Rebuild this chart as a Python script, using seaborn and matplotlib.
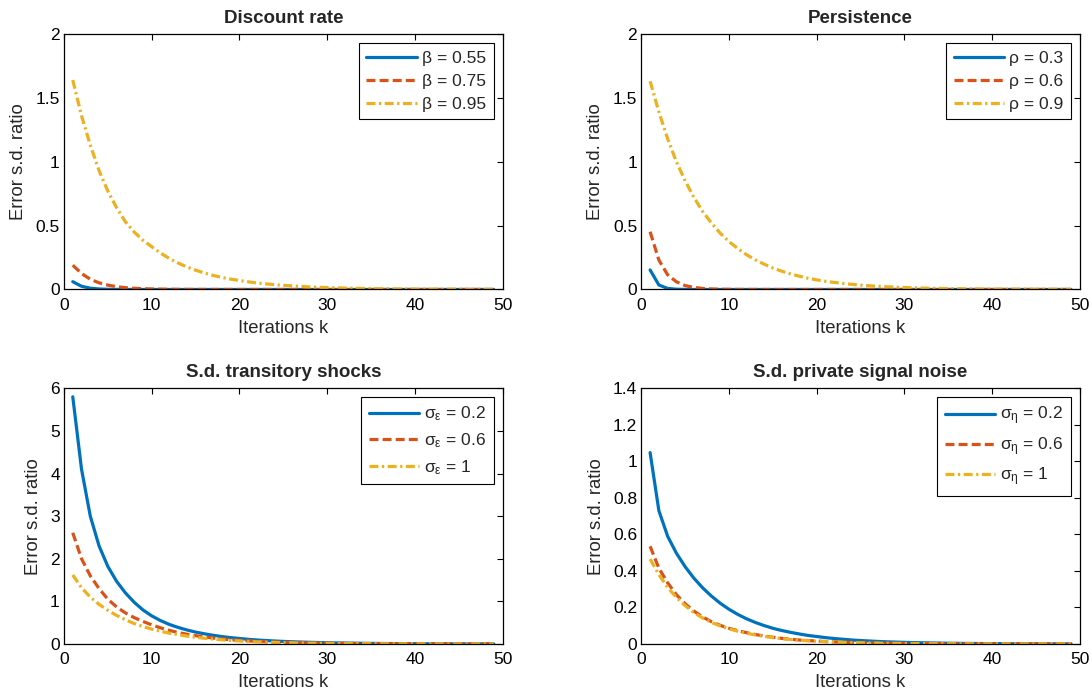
import numpy as np
import matplotlib
matplotlib.use("Agg")
import matplotlib.pyplot as plt
from matplotlib.ticker import FormatStrFormatter
import seaborn as sns

# --- data (k = 1..49) ---
iterations = list(range(1, 50))

# Discount rate
beta_labels = ["\u03b2 = 0.55", "\u03b2 = 0.75", "\u03b2 = 0.95"]
beta_055 = [0.061, 0.025, 0.01, 0.004, 0.0015, 0.0006, 0.0002, 0.0001, 0, 0,
            0, 0, 0, 0, 0, 0, 0, 0, 0, 0,
            0, 0, 0, 0, 0, 0, 0, 0, 0, 0,
            0, 0, 0, 0, 0, 0, 0, 0, 0, 0,
            0, 0, 0, 0, 0, 0, 0, 0, 0]
beta_075 = [0.19, 0.125, 0.08, 0.052, 0.034, 0.022, 0.014, 0.009, 0.006, 0.004,
            0.0025, 0.0016, 0.001, 0.0007, 0.0004, 0.0003, 0.0002, 0.0001, 0.0001, 0,
            0, 0, 0, 0, 0, 0, 0, 0, 0, 0,
            0, 0, 0, 0, 0, 0, 0, 0, 0, 0,
            0, 0, 0, 0, 0, 0, 0, 0, 0]
beta_095 = [1.64, 1.36, 1.13, 0.93, 0.77, 0.64, 0.53, 0.45, 0.385, 0.335,
            0.285, 0.243, 0.207, 0.177, 0.151, 0.129, 0.11, 0.094, 0.081, 0.07,
            0.06, 0.051, 0.044, 0.038, 0.032, 0.028, 0.024, 0.02, 0.017, 0.015,
            0.013, 0.011, 0.0095, 0.008, 0.007, 0.006, 0.005, 0.0044, 0.0038, 0.0032,
            0.0028, 0.0024, 0.002, 0.0018, 0.0015, 0.0013, 0.0011, 0.001, 0.0008]

# Persistence
rho_labels = ["\u03c1 = 0.3", "\u03c1 = 0.6", "\u03c1 = 0.9"]
rho_03 = [0.153, 0.035, 0.008, 0.002, 0.0005, 0.0001, 0, 0, 0, 0,
          0, 0, 0, 0, 0, 0, 0, 0, 0, 0,
          0, 0, 0, 0, 0, 0, 0, 0, 0, 0,
          0, 0, 0, 0, 0, 0, 0, 0, 0, 0,
          0, 0, 0, 0, 0, 0, 0, 0, 0]
rho_06 = [0.452, 0.23, 0.115, 0.06, 0.03, 0.016, 0.008, 0.004, 0.002, 0.001,
          0.0005, 0.0003, 0.0001, 0, 0, 0, 0, 0, 0, 0,
          0, 0, 0, 0, 0, 0, 0, 0, 0, 0,
          0, 0, 0, 0, 0, 0, 0, 0, 0, 0,
          0, 0, 0, 0, 0, 0, 0, 0, 0]
rho_09 = [1.63, 1.39, 1.18, 1.0, 0.85, 0.72, 0.61, 0.52, 0.44, 0.375,
          0.32, 0.272, 0.232, 0.198, 0.168, 0.143, 0.122, 0.104, 0.088, 0.075,
          0.064, 0.055, 0.047, 0.04, 0.034, 0.029, 0.025, 0.021, 0.018, 0.015,
          0.013, 0.011, 0.0095, 0.008, 0.007, 0.006, 0.005, 0.0043, 0.0037, 0.0031,
          0.0027, 0.0023, 0.002, 0.0017, 0.0014, 0.0012, 0.001, 0.0009, 0.0008]

# S.d. transitory shocks
eps_labels = [r"$\sigma_\varepsilon$ = 0.2", r"$\sigma_\varepsilon$ = 0.6", r"$\sigma_\varepsilon$ = 1"]
eps_02 = [5.8, 4.1, 3.0, 2.3, 1.82, 1.47, 1.2, 0.98, 0.8, 0.66,
          0.55, 0.46, 0.39, 0.33, 0.28, 0.24, 0.205, 0.175, 0.15, 0.13,
          0.11, 0.095, 0.082, 0.071, 0.061, 0.053, 0.046, 0.04, 0.035, 0.03,
          0.026, 0.023, 0.02, 0.017, 0.015, 0.013, 0.011, 0.0098, 0.0085, 0.0074,
          0.0064, 0.0056, 0.0049, 0.0042, 0.0037, 0.0032, 0.0028, 0.0024, 0.0021]
eps_06 = [2.61, 2.0, 1.6, 1.3, 1.05, 0.87, 0.73, 0.62, 0.53, 0.45,
          0.38, 0.32, 0.27, 0.23, 0.195, 0.165, 0.14, 0.12, 0.1, 0.086,
          0.073, 0.062, 0.053, 0.045, 0.038, 0.033, 0.028, 0.024, 0.02, 0.017,
          0.0145, 0.0124, 0.0105, 0.009, 0.0077, 0.0065, 0.0055, 0.0047, 0.004, 0.0034,
          0.0029, 0.0025, 0.0021, 0.0018, 0.0015, 0.0013, 0.0011, 0.0009, 0.0008]
eps_1 = [1.62, 1.32, 1.1, 0.93, 0.79, 0.67, 0.57, 0.48, 0.41, 0.35,
         0.3, 0.255, 0.218, 0.186, 0.158, 0.135, 0.115, 0.098, 0.083, 0.071,
         0.06, 0.051, 0.044, 0.037, 0.032, 0.027, 0.023, 0.02, 0.017, 0.0144,
         0.0123, 0.0105, 0.009, 0.0076, 0.0065, 0.0055, 0.0047, 0.004, 0.0034, 0.0029,
         0.0025, 0.0021, 0.0018, 0.0015, 0.0013, 0.0011, 0.001, 0.0008, 0.0007]

# S.d. private signal noise
eta_labels = [r"$\sigma_\eta$ = 0.2", r"$\sigma_\eta$ = 0.6", r"$\sigma_\eta$ = 1"]
eta_02 = [1.048, 0.73, 0.59, 0.497, 0.423, 0.36, 0.307, 0.262, 0.223, 0.19,
          0.162, 0.138, 0.118, 0.101, 0.086, 0.074, 0.064, 0.055, 0.047, 0.041,
          0.035, 0.03, 0.026, 0.022, 0.019, 0.0165, 0.014, 0.012, 0.0105, 0.009,
          0.0078, 0.0067, 0.0058, 0.005, 0.0043, 0.0037, 0.0032, 0.0028, 0.0024, 0.0021,
          0.0018, 0.0015, 0.0013, 0.0011, 0.001, 0.0009, 0.0008, 0.0007, 0.0006]
eta_06 = [0.535, 0.415, 0.335, 0.27, 0.22, 0.18, 0.148, 0.122, 0.102, 0.086,
          0.073, 0.062, 0.052, 0.044, 0.037, 0.031, 0.026, 0.022, 0.019, 0.016,
          0.0135, 0.0115, 0.0097, 0.0082, 0.007, 0.0059, 0.005, 0.0042, 0.0036, 0.003,
          0.0026, 0.0022, 0.0018, 0.0016, 0.0013, 0.0011, 0.001, 0.0008, 0.0007, 0.0006,
          0.0005, 0.0004, 0.0004, 0.0003, 0.0003, 0.0002, 0.0002, 0.0002, 0.0001]
eta_1 = [0.465, 0.38, 0.31, 0.255, 0.21, 0.172, 0.142, 0.118, 0.099, 0.083,
         0.07, 0.059, 0.05, 0.042, 0.035, 0.03, 0.025, 0.021, 0.018, 0.015,
         0.013, 0.011, 0.0093, 0.0079, 0.0067, 0.0057, 0.0048, 0.0041, 0.0035, 0.003,
         0.0025, 0.0021, 0.0018, 0.0015, 0.0013, 0.0011, 0.0009, 0.0008, 0.0007, 0.0006,
         0.0005, 0.0004, 0.0004, 0.0003, 0.0003, 0.0002, 0.0002, 0.0002, 0.0001]

panels = [
    ("Discount rate", [beta_055, beta_075, beta_095], beta_labels, 2, [0, 0.5, 1, 1.5, 2]),
    ("Persistence", [rho_03, rho_06, rho_09], rho_labels, 2, [0, 0.5, 1, 1.5, 2]),
    ("S.d. transitory shocks", [eps_02, eps_06, eps_1], eps_labels, 6, [0, 1, 2, 3, 4, 5, 6]),
    ("S.d. private signal noise", [eta_02, eta_06, eta_1], eta_labels, 1.4,
     [0, 0.2, 0.4, 0.6, 0.8, 1, 1.2, 1.4]),
]

# --- styling (MATLAB-like) ---
sns.set_theme(style="white")
plt.rcParams["font.family"] = ["Liberation Sans", "DejaVu Sans"]
plt.rcParams["mathtext.fontset"] = "custom"
plt.rcParams["mathtext.rm"] = "Liberation Sans"
plt.rcParams["mathtext.it"] = "Liberation Sans"
plt.rcParams["mathtext.default"] = "regular"

colors = ["#0072BD", "#D95319", "#EDB120"]
styles = ["-", (0, (2.8, 1.3)), (0, (2.8, 1.1, 0.7, 1.1))]

fig = plt.figure(figsize=(10.92, 6.96), dpi=100)
positions = [
    [0.0586, 0.5841, 0.4016, 0.3670],
    [0.5873, 0.5841, 0.4016, 0.3670],
    [0.0586, 0.0747, 0.4016, 0.3674],
    [0.5873, 0.0747, 0.4016, 0.3674],
]

for pos, (title, series, labels, ymax, yticks) in zip(positions, panels):
    ax = fig.add_axes(pos)
    for vals, lab, col, ls in zip(series, labels, colors, styles):
        sns.lineplot(x=iterations, y=vals, ax=ax, color=col, linestyle=ls,
                     linewidth=2.3, label=lab)
    ax.set_xlim(0, 50)
    ax.set_ylim(0, ymax)
    ax.set_xticks([0, 10, 20, 30, 40, 50])
    ax.set_yticks(yticks)
    ax.yaxis.set_major_formatter(FormatStrFormatter("%g"))
    ax.tick_params(direction="in", top=True, right=True, length=4, width=0.8,
                   labelsize=12.5, colors="black")
    ax.tick_params(axis="x", pad=6)
    ax.tick_params(axis="y", pad=3)
    for sp in ax.spines.values():
        sp.set_visible(True)
        sp.set_color("black")
        sp.set_linewidth(0.9)
    ax.set_title(title, fontsize=13.5, fontweight="bold", pad=8)
    ax.set_xlabel("Iterations k", fontsize=13.3, color="#262626", labelpad=5)
    ax.set_ylabel("Error s.d. ratio", fontsize=13.3, color="#262626", labelpad=6)
    leg = ax.legend(loc="upper right", fontsize=12.5, handlelength=2.9,
                    handletextpad=0.3, borderaxespad=0.5, borderpad=0.45,
                    labelspacing=0.45, fancybox=False, framealpha=1)
    leg.get_frame().set_edgecolor("black")
    leg.get_frame().set_linewidth(0.8)

fig.savefig("out.png", dpi=100)
